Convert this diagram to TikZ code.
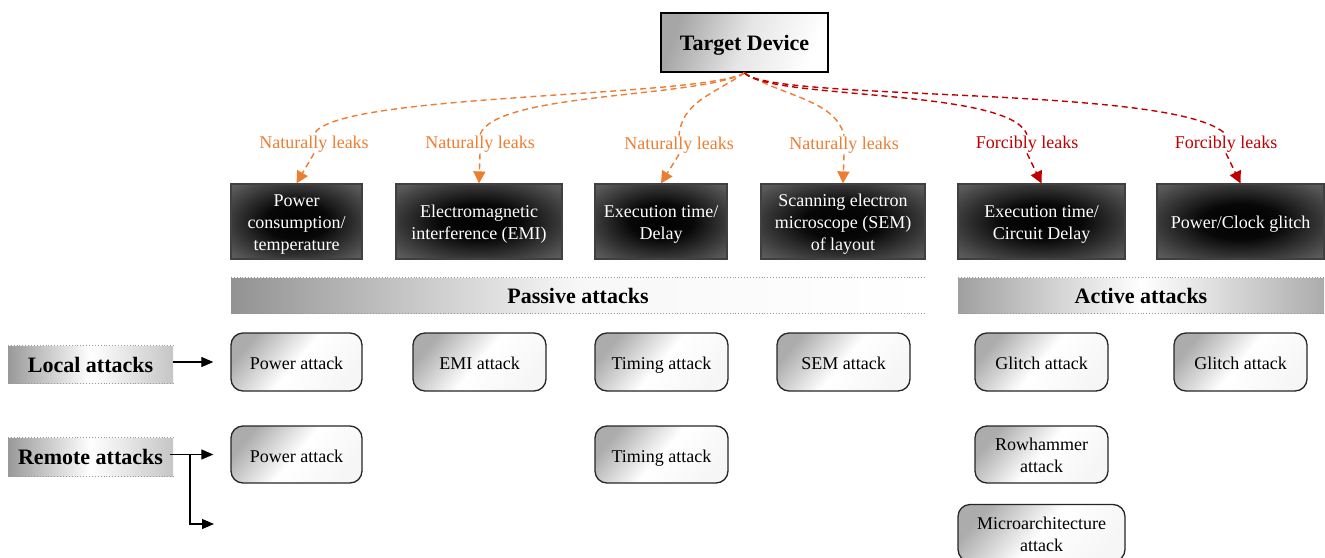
\documentclass[tikz,border=0pt]{standalone}
\usepackage{fontspec}
\setmainfont{Liberation Serif}
\usetikzlibrary{arrows.meta,calc}
\definecolor{natorange}{HTML}{ED7D31}
\definecolor{forcered}{HTML}{C00000}
\pgfdeclareradialshading{darkbox}{\pgfpoint{0bp}{0bp}}{color(0bp)=(black); color(12bp)=(black!97!white); color(32bp)=(black!66!white); color(50bp)=(black!48!white); color(72bp)=(black!35!white)}
\newcommand{\mlines}[2][-3pt]{\raisebox{#1}[\height][\depth]{\begin{tabular}{@{}c@{}}#2\end{tabular}}}
\tikzset{
  body/.style={font=\fontsize{18}{22}\selectfont},
  hdr/.style={font=\bfseries\fontsize{22}{24}\selectfont},
  target/.style={hdr, draw=black, line width=1.8pt, left color=gray!70, right color=white, middle color=white!80!gray, shading angle=70, minimum width=167pt, minimum height=59pt, inner sep=0pt, text height=15pt, text depth=0pt},
  darkbox/.style={body, shade, shading=darkbox, draw=black!75, line width=1.2pt, text=white, inner sep=0pt, minimum height=75pt},
  atk/.style={body, draw=black!85, line width=1.3pt, rounded corners=12pt, top color=gray!65, bottom color=white!93!gray, middle color=white, shading angle=50, inner sep=0pt, minimum height=58pt},
  oneline/.style={text height=15pt, text depth=0pt},
  bar/.style={hdr, inner sep=0pt, minimum height=35pt},
  dotline/.style={draw=gray!80, dotted, line width=0.9pt},
  natlbl/.style={body, text=natorange, inner sep=1pt},
  frclbl/.style={body, text=forcered, inner sep=1pt},
  natcurve/.style={draw=natorange, dashed, dash pattern=on 6pt off 4pt, line width=1.4pt},
  frccurve/.style={draw=forcered, dashed, dash pattern=on 6pt off 4pt, line width=1.4pt},
  natarrow/.style={natcurve, -{Triangle[width=12pt,length=12pt]}},
  frcarrow/.style={frccurve, -{Triangle[width=12pt,length=12pt]}},
  blk/.style={draw=black, line width=1.1pt, -{Triangle[width=10pt,length=12pt]}}
}
\begin{document}
\begin{tikzpicture}[x=1pt,y=1pt]
\useasboundingbox (0,0) rectangle (1325,-557);

% top
\node[target] (td) at (744.5,-42.5) {Target Device};

% dark boxes
\node[darkbox, minimum width=131pt] (b1) at (296.5,-221.5) {\mlines{Power\\consumption/\\temperature}};
\node[darkbox, minimum width=166pt] (b2) at (479,-221.5) {\mlines{Electromagnetic\\interference (EMI)}};
\node[darkbox, minimum width=132pt] (b3) at (661,-221.5) {\mlines{Execution time/\\Delay}};
\node[darkbox, minimum width=164pt] (b4) at (843,-221.5) {\mlines{Scanning electron\\microscope (SEM)\\of layout}};
\node[darkbox, minimum width=167pt] (b5) at (1041.5,-221.5) {\mlines{Execution time/\\Circuit Delay}};
\node[darkbox, minimum width=167pt] (b6) at (1240.5,-221.5) {\mlines{Power/Clock glitch}};

% labels
\node[natlbl] (l1) at (314,-144) {Naturally leaks};
\node[natlbl] (l2) at (480,-144) {Naturally leaks};
\node[natlbl] (l3) at (679,-145) {Naturally leaks};
\node[natlbl] (l4) at (844,-145) {Naturally leaks};
\node[frclbl] (l5) at (1027,-144) {Forcibly leaks};
\node[frclbl] (l6) at (1226,-144) {Forcibly leaks};

% curves
\draw[natcurve] (td.south) .. controls (700,-98) and (330,-93) .. (l1.north);
\draw[natcurve] (td.south) .. controls (700,-98) and (495,-92) .. (l2.north);
\draw[natcurve] (td.south) .. controls (712,-95) and (682,-102) .. (l3.north);
\draw[natcurve] (td.south) .. controls (782,-96) and (836,-100) .. (l4.north);
\draw[frccurve] (td.south) .. controls (770,-100) and (1010,-88) .. (l5.north);
\draw[frccurve] (td.south) .. controls (770,-102) and (1180,-85) .. (l6.north);
\draw[natarrow] (l1.south) -- (b1.north);
\draw[natarrow] (l2.south) -- (b2.north);
\draw[natarrow] (l3.south) -- (b3.north);
\draw[natarrow] (l4.south) -- (b4.north);
\draw[frcarrow] (l5.south) -- (b5.north);
\draw[frcarrow] (l6.south) -- (b6.north);

% bars
\node[bar, minimum width=694pt, left color=gray!85, right color=white, middle color=white!94!gray] (pas) at (578,-295.5) {Passive attacks};
\node[bar, minimum width=366pt, left color=gray!75, right color=gray!65, middle color=white] (act) at (1141,-295.5) {Active attacks};
\draw[dotline] (pas.north west) -- (pas.north east);
\draw[dotline] (pas.south west) -- (pas.south east);
\draw[dotline] (act.north west) -- (act.north east);
\draw[dotline] (act.south west) -- (act.south east);

\node[bar, minimum width=165pt, minimum height=37pt, left color=gray!80, right color=gray!45, middle color=white] (loc) at (90.5,-364.5) {Local attacks};
\node[bar, minimum width=165pt, minimum height=38pt, left color=gray!80, right color=gray!45, middle color=white] (rem) at (90.5,-457) {Remote attacks};
\draw[dotline] (loc.north west) -- (loc.north east);
\draw[dotline] (loc.south west) -- (loc.south east);
\draw[dotline] (rem.north west) -- (rem.north east);
\draw[dotline] (rem.south west) -- (rem.south east);

% attack boxes row 1
\node[atk, oneline, minimum width=131pt] (pa1) at (296.5,-362) {Power attack};
\node[atk, oneline, minimum width=133pt] (emi) at (479.5,-362) {EMI attack};
\node[atk, oneline, minimum width=133pt] (ta1) at (661.5,-362) {Timing attack};
\node[atk, oneline, minimum width=133pt] (sem) at (843.5,-362) {SEM attack};
\node[atk, oneline, minimum width=133pt] (gl1) at (1041.5,-362) {Glitch attack};
\node[atk, oneline, minimum width=133pt] (gl2) at (1240.5,-362) {Glitch attack};
% row 2
\node[atk, oneline, minimum width=131pt, minimum height=57pt] (pa2) at (296.5,-454.5) {Power attack};
\node[atk, oneline, minimum width=133pt, minimum height=57pt] (ta2) at (661.5,-454.5) {Timing attack};
\node[atk, minimum width=133pt, minimum height=57pt] (rh) at (1041.5,-454.5) {\mlines{Rowhammer\\attack}};
% row 3
\node[atk, minimum width=167pt, minimum height=57pt] (ma) at (1041.5,-533) {\mlines{Microarchitecture\\attack}};

% left arrows
\draw[blk] (loc.east |- pa1.west) -- ([xshift=-17pt]pa1.west);
\draw[blk] ([xshift=-3pt]rem.east |- pa2.west) -- ([xshift=-17pt]pa2.west);
\coordinate (br) at (190,-454.5);
\coordinate (brend) at (214,-524);
\draw[blk] (br) |- (brend);
\end{tikzpicture}
\end{document}
